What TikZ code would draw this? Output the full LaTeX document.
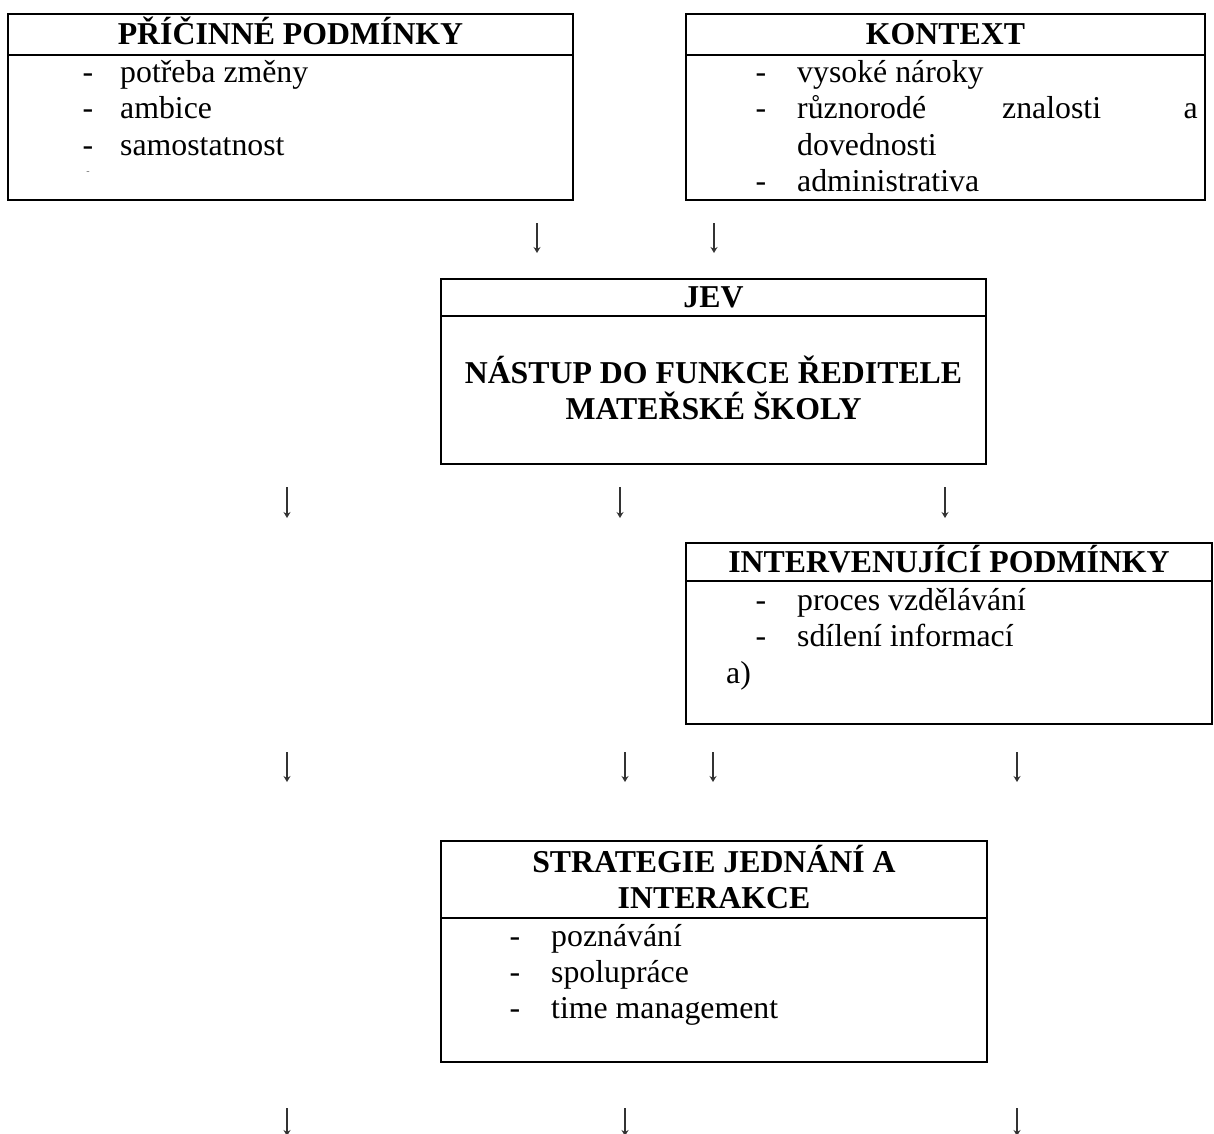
\documentclass[tikz,border=0pt]{standalone}
\usepackage{fontspec}
\setmainfont{Liberation Serif}[BoldFont={Liberation Serif Bold}]
\usetikzlibrary{arrows.meta}
\newcommand\ttlf{\fontsize{31.8}{36}\selectfont\bfseries}
\newcommand\itmf{\fontsize{31.8}{36.5}\selectfont}
\begin{document}
\begin{tikzpicture}[x=1pt,y=-1pt,
  boxst/.style={draw, line width=2pt, inner sep=0pt},
  sepst/.style={line width=2pt},
  ttl/.style={font=\ttlf, anchor=base, inner sep=0pt},
  itm/.style={font=\itmf, anchor=base west, inner sep=0pt},
  dsh/.style={font=\itmf, anchor=base, inner sep=0pt},
  arr/.style={line width=1.2pt, draw=black!80, -{Stealth[length=6pt,width=7pt]}}]
\useasboundingbox (0,0) rectangle (1214,1133);

% Box 1: PRICINNE PODMINKY
\node[boxst, minimum width=565pt, minimum height=186pt] (b1) at (290.5,107) {};
\draw[sepst] (b1.west |- 0,55) -- (b1.east |- 0,55);
\node[ttl] (b1t) at (290.5,44) {PŘÍČINNÉ PODMÍNKY};
\node[dsh] (b1d1) at (88,82) {-};
\node[itm] (b1i1) at (120,82) {potřeba změny};
\node[dsh] (b1d2) at (88,118.5) {-};
\node[itm] (b1i2) at (120,118.5) {ambice};
\node[dsh] (b1d3) at (88,155) {-};
\node[itm] (b1i3) at (120,155) {samostatnost};
\node[font=\fontsize{10}{11}\selectfont, anchor=base, inner sep=0pt, text=black!60] (b1d4) at (88,174) {-};

% Box 2: KONTEXT
\node[boxst, minimum width=519pt, minimum height=186pt] (b2) at (945.5,107) {};
\draw[sepst] (b2.west |- 0,55) -- (b2.east |- 0,55);
\node[ttl] (b2t) at (945.5,44) {KONTEXT};
\node[dsh] (b2d1) at (761,82) {-};
\node[itm] (b2i1) at (797,82) {vysoké nároky};
\node[dsh] (b2d2) at (761,118.5) {-};
\node[itm] (b2i2a) at (797,118.5) {různorodé};
\node[itm] (b2i2b) at (1002,118.5) {znalosti};
\node[font=\itmf, anchor=base east, inner sep=0pt] (b2i2c) at (1198,118.5) {a};
\node[itm] (b2i2d) at (797,155) {dovednosti};
\node[dsh] (b2d3) at (761,191.5) {-};
\node[itm] (b2i3) at (797,191.5) {administrativa};

% JEV
\node[boxst, minimum width=545pt, minimum height=185pt] (jev) at (713.5,371.5) {};
\draw[sepst] (jev.west |- 0,316) -- (jev.east |- 0,316);
\node[ttl] (jevt) at (713.5,307) {JEV};
\node[ttl] (jev1) at (713.5,383) {NÁSTUP DO FUNKCE ŘEDITELE};
\node[ttl] (jev2) at (713.5,419) {MATEŘSKÉ ŠKOLY};

% INTERVENUJICI PODMINKY
\node[boxst, minimum width=526pt, minimum height=181pt] (int) at (949,633.5) {};
\draw[sepst] (int.west |- 0,581) -- (int.east |- 0,581);
\node[ttl] (intt) at (949,572) {INTERVENUJÍCÍ PODMÍNKY};
\node[dsh] (intd1) at (761,610) {-};
\node[itm] (inti1) at (797,610) {proces vzdělávání};
\node[dsh] (intd2) at (761,646.5) {-};
\node[itm] (inti2) at (797,646.5) {sdílení informací};
\node[itm] (inti3) at (726,683) {a)};

% STRATEGIE
\node[boxst, minimum width=546pt, minimum height=221pt] (str) at (714,951.5) {};
\draw[sepst] (str.west |- 0,918) -- (str.east |- 0,918);
\node[ttl] (strt1) at (714,872) {STRATEGIE JEDNÁNÍ A};
\node[ttl] (strt2) at (714,908) {INTERAKCE};
\node[dsh] (strd1) at (515,946) {-};
\node[itm] (stri1) at (551,946) {poznávání};
\node[dsh] (strd2) at (515,982) {-};
\node[itm] (stri2) at (551,982) {spolupráce};
\node[dsh] (strd3) at (515,1018.5) {-};
\node[itm] (stri3) at (551,1018.5) {time management};

% arrows
\foreach \n/\x/\ya/\yb in {a1/537/223/253, a2/714/223/253,
  c1/287/487/518, c2/620/487/518, c3/945/487/518,
  d1/287/752/782, d2/625/752/782, d3/713/752/782, d4/1017/752/782,
  e1/287/1108/1136, e2/625/1108/1136, e3/1017/1108/1136}{
  \coordinate (\n s) at (\x,\ya);
  \coordinate (\n e) at (\x,\yb);
  \draw[arr] (\n s) -- (\n e);
}
\end{tikzpicture}
\end{document}
